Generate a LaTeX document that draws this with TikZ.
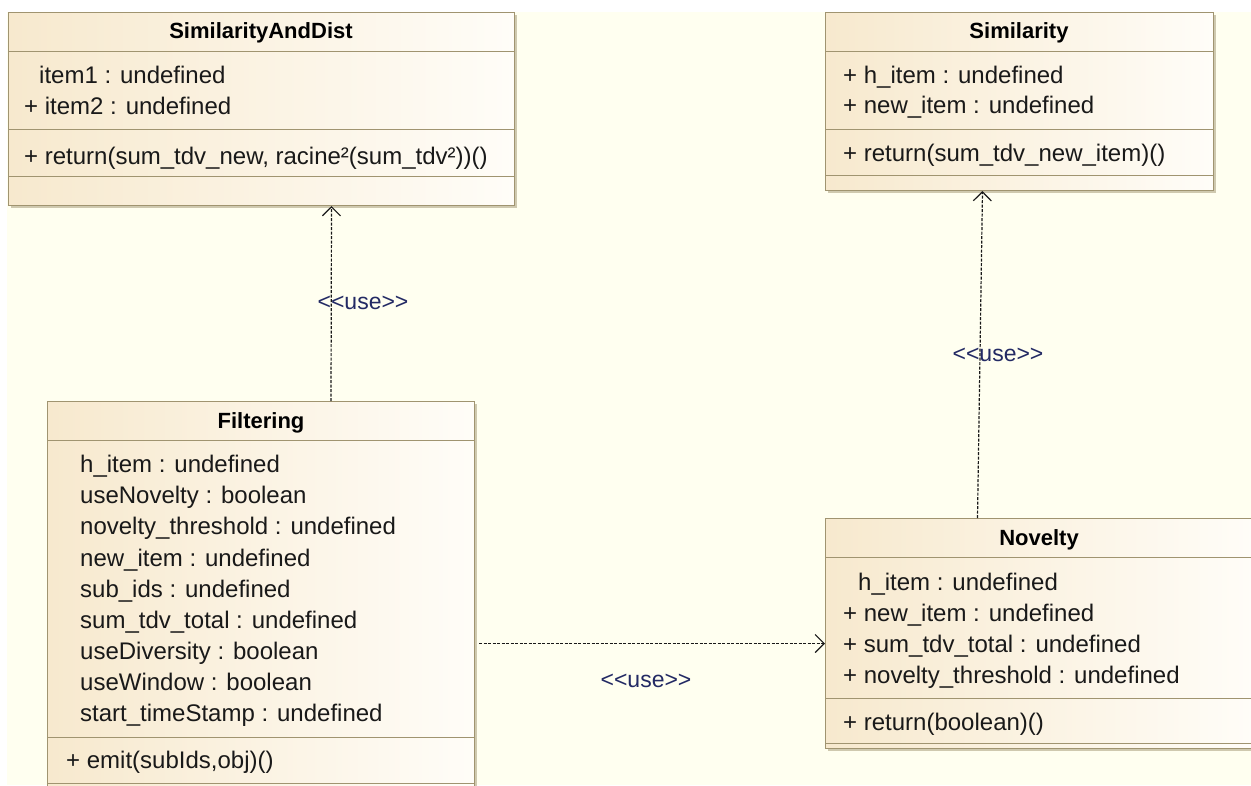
\documentclass[tikz,border=0pt]{standalone}
\usepackage{fontspec}
\setmainfont{Liberation Sans}
\usetikzlibrary{arrows.meta,shadows}

\definecolor{bgyellow}{RGB}{255,255,240}
\definecolor{boxline}{RGB}{160,148,112}
\definecolor{boxleft}{RGB}{247,233,206}
\definecolor{boxright}{RGB}{255,253,248}
\definecolor{usetext}{RGB}{35,42,100}

\newcommand{\stereo}[1]{<\kern0pt<#1>\kern0pt>}

\tikzset{
  umlclass/.style={draw=boxline, line width=1pt, left color=boxleft, right color=boxright,
    anchor=north west, inner sep=0pt,
    drop shadow={shadow xshift=2pt, shadow yshift=-2pt, fill=boxline, opacity=0.5}},
  sepline/.style={draw=boxline, line width=1pt},
  classname/.style={anchor=base, inner sep=0pt, font=\fontsize{22}{26}\selectfont\bfseries},
  attr/.style={anchor=base west, inner sep=0pt, font=\fontsize{24}{28}\selectfont, text=black!90},
  usedep/.style={draw=black!90, line width=1.2pt, dash pattern=on 3pt off 1.5pt,
    -{Straight Barb[length=9pt,width=18pt]}},
  uselabel/.style={inner sep=0pt, font=\fontsize{23}{26}\selectfont, text=usetext}
}

\begin{document}
\begin{tikzpicture}[x=1pt, y=-1pt]
  \useasboundingbox (0,0) rectangle (1251,785);
  \clip (0,0) rectangle (1251,785);
  \fill[white] (0,0) rectangle (1251,785);
  \fill[bgyellow] (7,12) rectangle (1251,785);

  % class boxes
  \node[umlclass, minimum width=506pt, minimum height=193pt] (simdist) at (8,12) {};
  \node[umlclass, minimum width=388pt, minimum height=178pt] (sim) at (825,12) {};
  \node[umlclass, minimum width=427pt, minimum height=399pt] (filt) at (47,401) {};
  \node[umlclass, minimum width=428pt, minimum height=230pt] (nov) at (825,518) {};

  % compartments
  \draw[sepline] (simdist.west |- 0,51) -- (simdist.east |- 0,51);
  \draw[sepline] (simdist.west |- 0,129) -- (simdist.east |- 0,129);
  \draw[sepline] (simdist.west |- 0,176) -- (simdist.east |- 0,176);
  \draw[sepline] (sim.west |- 0,51) -- (sim.east |- 0,51);
  \draw[sepline] (sim.west |- 0,129) -- (sim.east |- 0,129);
  \draw[sepline] (sim.west |- 0,175) -- (sim.east |- 0,175);
  \draw[sepline] (filt.west |- 0,440) -- (filt.east |- 0,440);
  \draw[sepline] (filt.west |- 0,737) -- (filt.east |- 0,737);
  \draw[sepline] (filt.west |- 0,783) -- (filt.east |- 0,783);
  \draw[sepline] (nov.west |- 0,557) -- (nov.east |- 0,557);
  \draw[sepline] (nov.west |- 0,698) -- (nov.east |- 0,698);
  \draw[sepline] (nov.west |- 0,743) -- (nov.east |- 0,743);

  % SimilarityAndDist
  \node[classname] (simdistname) at (261,38) {SimilarityAndDist};
  \node[attr] (simdista1) at (39,83) {item1 : undefined};
  \node[attr] (simdista2) at (24,114) {+ item2 : undefined};
  \node[attr] (simdisto1) at (24,164) {+ return(sum\_tdv\_new, racine²(sum\_tdv²))()};

  % Similarity
  \node[classname] (simname) at (1019,38) {Similarity};
  \node[attr] (sima1) at (843,83) {+ h\_item : undefined};
  \node[attr] (sima2) at (843,113) {+ new\_item : undefined};
  \node[attr] (simo1) at (843,161) {+ return(sum\_tdv\_new\_item)()};

  % Filtering
  \node[classname] (filtname) at (261,428) {Filtering};
  \node[attr] (filta1) at (80,472) {h\_item : undefined};
  \node[attr] (filta2) at (80,503) {useNovelty : boolean};
  \node[attr] (filta3) at (80,534) {novelty\_threshold : undefined};
  \node[attr] (filta4) at (80,566) {new\_item : undefined};
  \node[attr] (filta5) at (80,597) {sub\_ids : undefined};
  \node[attr] (filta6) at (80,628) {sum\_tdv\_total : undefined};
  \node[attr] (filta7) at (80,659) {useDiversity : boolean};
  \node[attr] (filta8) at (80,690) {useWindow : boolean};
  \node[attr] (filta9) at (80,721) {start\_timeStamp : undefined};
  \node[attr] (filto1) at (66,768) {+ emit(subIds,obj)()};

  % Novelty
  \node[classname] (novname) at (1039,545) {Novelty};
  \node[attr] (nova1) at (858,590) {h\_item : undefined};
  \node[attr] (nova2) at (843,621) {+ new\_item : undefined};
  \node[attr] (nova3) at (843,652) {+ sum\_tdv\_total : undefined};
  \node[attr] (nova4) at (843,683) {+ novelty\_threshold : undefined};
  \node[attr] (novo1) at (843,730) {+ return(boolean)()};

  % dependencies
  \draw[usedep] ([xshift=70pt]filt.north) -- ([xshift=70pt]simdist.south);
  \draw[usedep] ([xshift=-62pt]nov.north) -- ([xshift=-37pt]sim.south);
  \draw[usedep] ([xshift=4pt,yshift=-10pt]filt.east |- nov.west) -- ([yshift=-10pt]nov.west);
  \node[uselabel] (use1) at (363,303) {\stereo{use}};
  \node[uselabel] (use2) at (998,355) {\stereo{use}};
  \node[uselabel] (use3) at (646,681) {\stereo{use}};
\end{tikzpicture}
\end{document}
